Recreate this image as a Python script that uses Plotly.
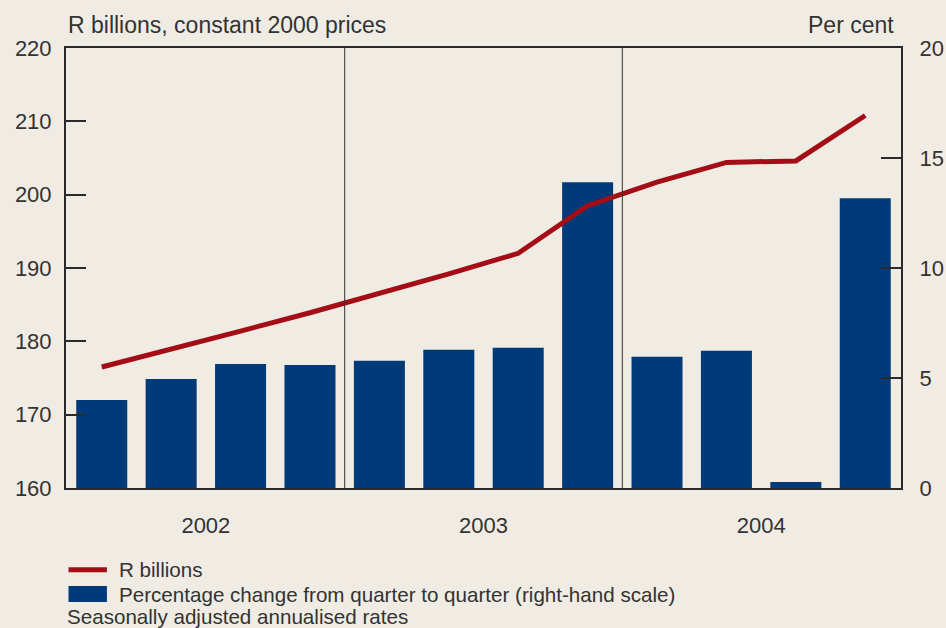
import plotly.graph_objects as go

# quarters 2002Q1 .. 2004Q4
quarters = ["2002Q1", "2002Q2", "2002Q3", "2002Q4",
            "2003Q1", "2003Q2", "2003Q3", "2003Q4",
            "2004Q1", "2004Q2", "2004Q3", "2004Q4"]
years = ["2002", "2003", "2004"]
# R billions, constant 2000 prices (left-hand scale)
r_billions = [176.5, 178.9, 181.4, 183.9, 186.5, 189.2, 192.0, 198.5,
              201.7, 204.4, 204.6, 210.8]
# percentage change from quarter to quarter (right-hand scale)
pct_change = [4.0, 4.96, 5.64, 5.59, 5.78, 6.28, 6.37, 13.9,
              5.97, 6.24, 0.27, 13.17]

BG = "#f0ece4"
BLUE = "#003a78"
RED = "#a50d16"
INK = "#2a2a2a"
TEXT = "#333333"
FONT = "Liberation Sans"

x = list(range(len(quarters)))

fig = go.Figure()
# bars on the primary axis (drawn on the right), line on the overlaying axis so it sits on top
fig.add_trace(go.Bar(x=x, y=pct_change, marker=dict(color=BLUE, line=dict(width=0)),
                     name="Percentage change from quarter to quarter (right-hand scale)",
                     yaxis="y", showlegend=False))
fig.add_trace(go.Scatter(x=x, y=r_billions, mode="lines", line=dict(color=RED, width=5),
                         name="R billions", yaxis="y2", showlegend=False))

fig.update_layout(
    width=946, height=628,
    margin=dict(l=66, r=45, t=48, b=140),
    paper_bgcolor=BG, plot_bgcolor=BG,
    font=dict(family=FONT, size=22, color=TEXT),
    bargap=0.265,
    xaxis=dict(range=[-0.515, 11.515], tickvals=[1.5, 5.5, 9.5], ticktext=years,
               showgrid=False, zeroline=False, showline=True, mirror=True, automargin=False,
               linecolor=INK, linewidth=2, ticks="", ticklabelstandoff=17),
    yaxis=dict(side="right", range=[0, 20], tickvals=[0, 5, 10, 15, 20], automargin=False,
               showgrid=False, zeroline=False, showline=True, linecolor=INK, linewidth=2,
               ticks="inside", ticklen=20, tickwidth=2, tickcolor=INK, ticklabelstandoff=12),
    yaxis2=dict(side="left", overlaying="y", range=[160, 220], automargin=False,
                tickvals=[160, 170, 180, 190, 200, 210, 220],
                showgrid=False, zeroline=False, showline=True, linecolor=INK, linewidth=2,
                ticks="inside", ticklen=20, tickwidth=2, tickcolor=INK, ticklabelstandoff=8),
)

# year dividers
for xv in [3.5, 7.5]:
    fig.add_shape(type="line", xref="x", yref="paper", x0=xv, x1=xv, y0=0, y1=1,
                  line=dict(color="#333333", width=1))

# axis titles
fig.add_annotation(text="R billions, constant 2000 prices", xref="paper", yref="paper",
                   x=0, y=1.052, xanchor="left", yanchor="middle", showarrow=False,
                   font=dict(size=23))
fig.add_annotation(text="Per cent", xref="paper", yref="paper",
                   x=0.994, y=1.052, xanchor="right", yanchor="middle", showarrow=False,
                   font=dict(size=23))

# legend keys
fig.add_shape(type="line", xref="paper", yref="paper", x0=0.003, x1=0.049, y0=-0.186, y1=-0.186,
              line=dict(color=RED, width=5))
fig.add_shape(type="rect", xref="paper", yref="paper", x0=0.003, x1=0.049, y0=-0.223, y1=-0.259,
              fillcolor=BLUE, line=dict(width=0))
fig.add_annotation(text="R billions", xref="paper", yref="paper", x=0.061, y=-0.186,
                   xanchor="left", yanchor="middle", showarrow=False, font=dict(size=20.6))
fig.add_annotation(text="Percentage change from quarter to quarter (right-hand scale)",
                   xref="paper", yref="paper", x=0.061, y=-0.241,
                   xanchor="left", yanchor="middle", showarrow=False, font=dict(size=20.6))
fig.add_annotation(text="Seasonally adjusted annualised rates", xref="paper", yref="paper",
                   x=-0.001, y=-0.293, xanchor="left", yanchor="middle", showarrow=False,
                   font=dict(size=20.6))

# page margin off so the figure fills the window
fig.write_html("out.html", config={"displayModeBar": False},
               post_script="document.body.style.margin='0';document.body.style.background='#f0ece4';")
